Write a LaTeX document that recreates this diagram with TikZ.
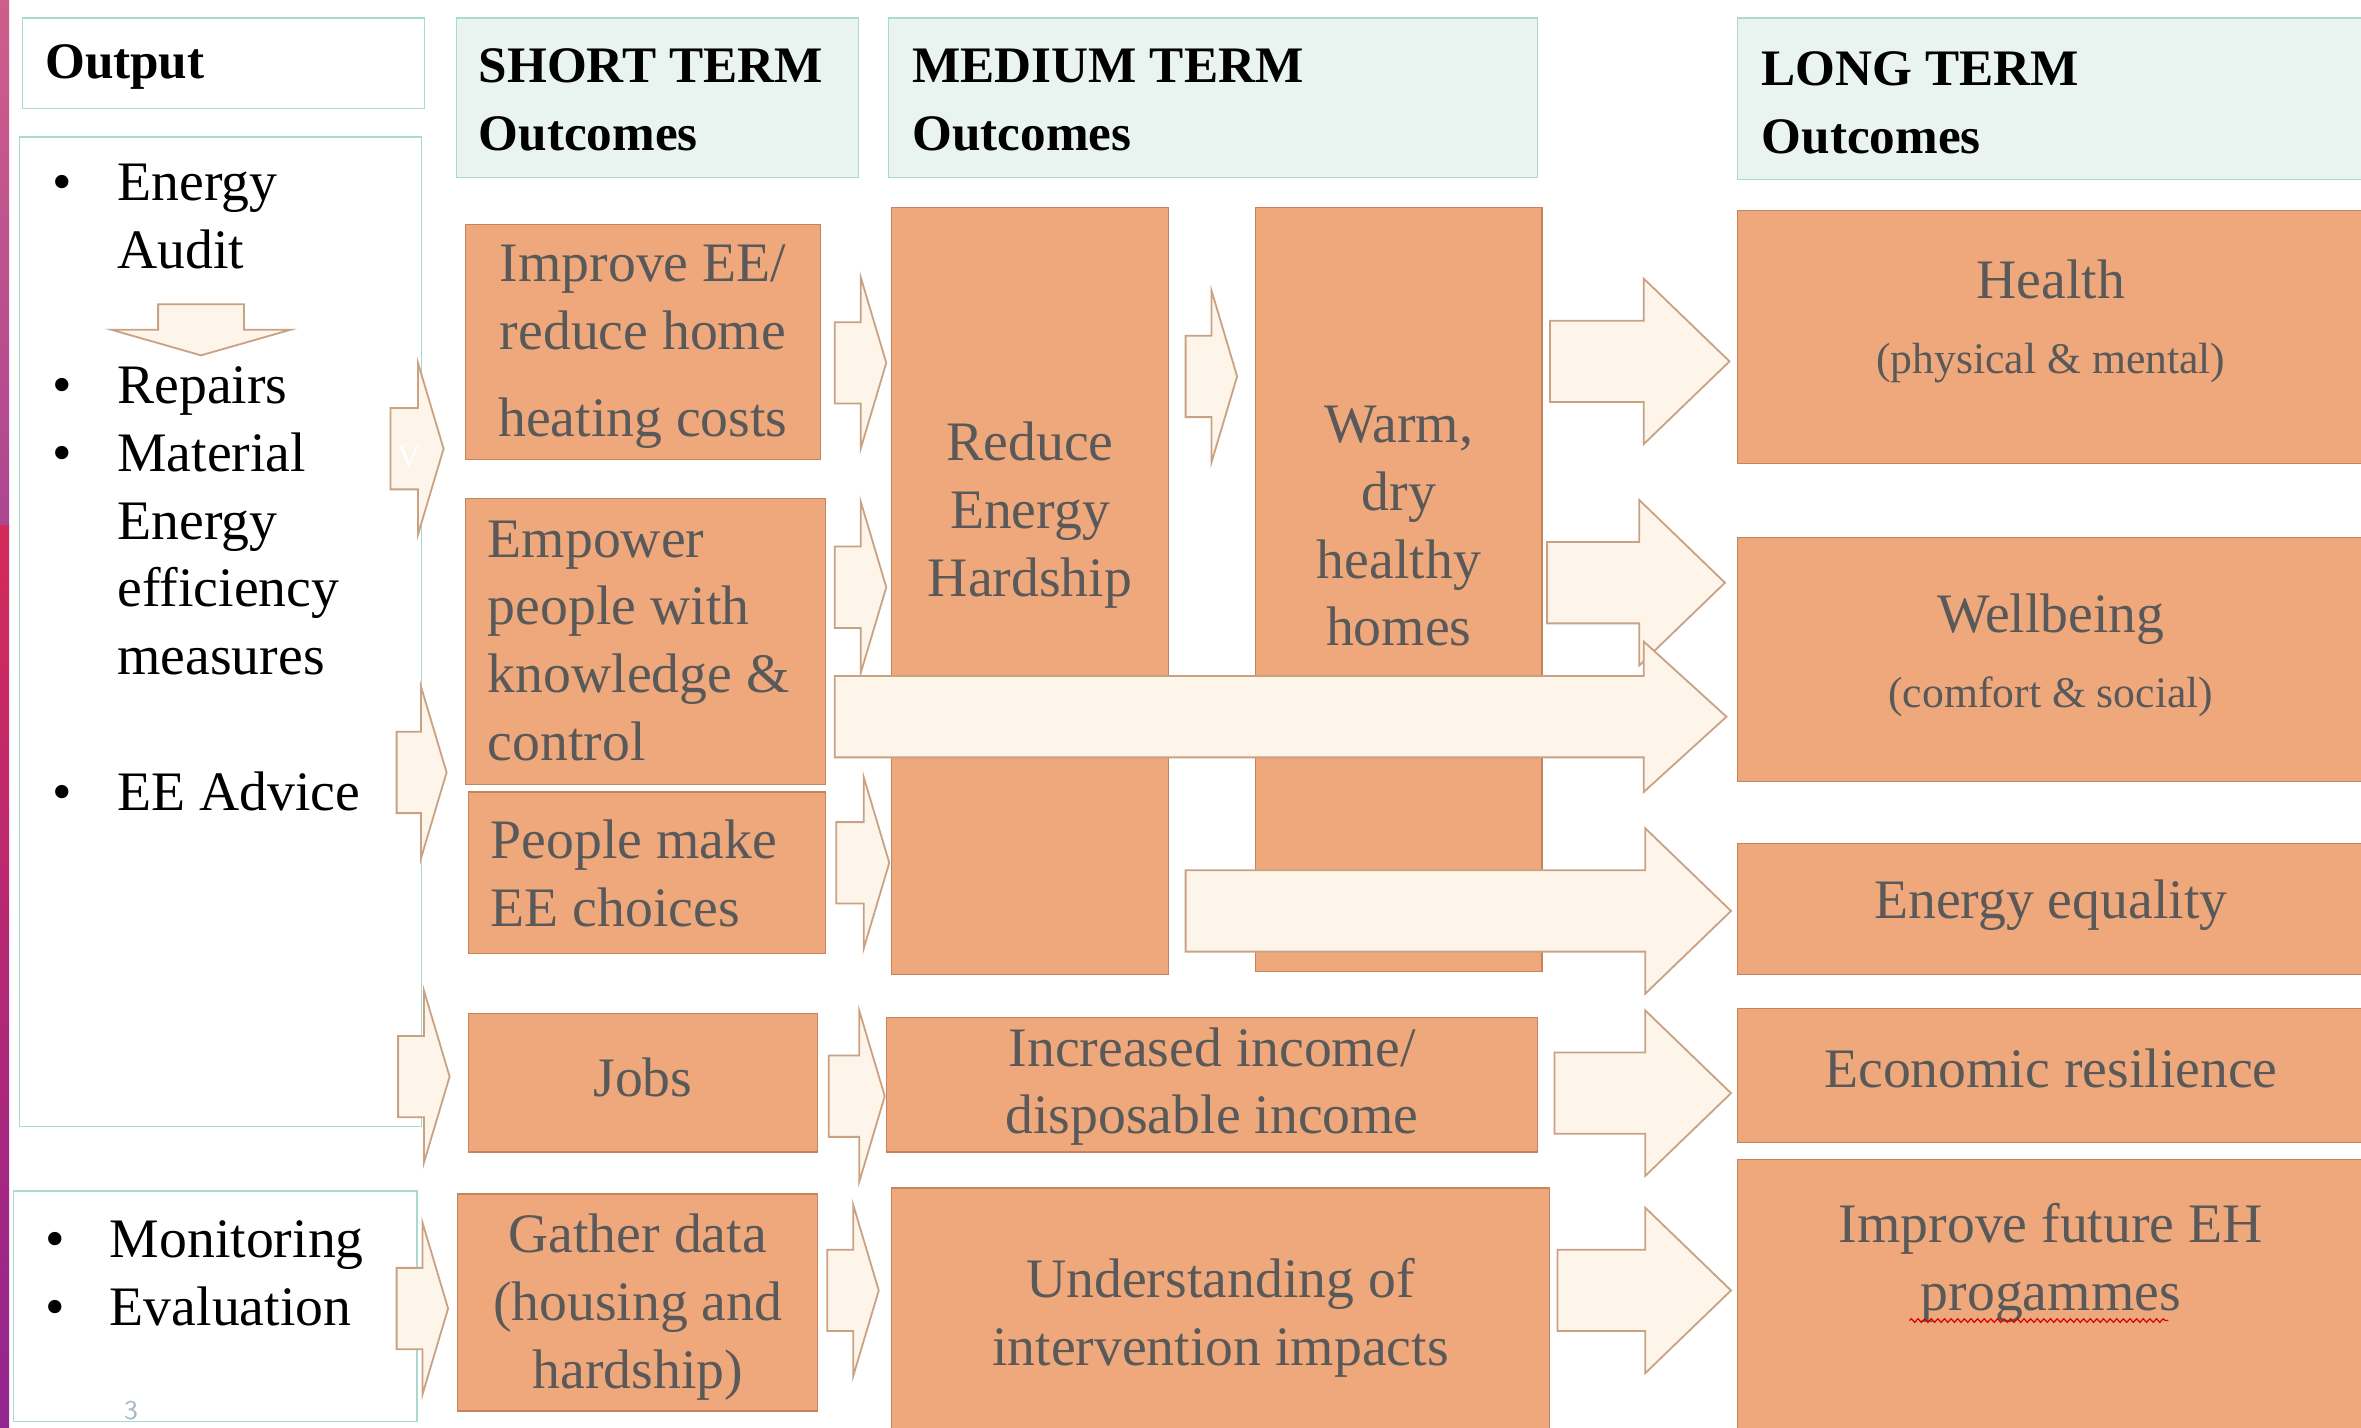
\documentclass[tikz,border=0pt]{standalone}
\usepackage{fontspec}
\setmainfont{Liberation Serif}
\usetikzlibrary{calc}
\usetikzlibrary{decorations.pathmorphing}

\definecolor{hdrfill}{HTML}{E9F3EF}
\definecolor{hdrline}{HTML}{A9DACC}
\definecolor{boxfill}{HTML}{EEA87B}
\definecolor{boxline}{HTML}{C4845D}
\definecolor{boxtext}{HTML}{595959}
\definecolor{arrfill}{HTML}{FDF5E9}
\definecolor{arrline}{HTML}{C9A284}
\definecolor{pgnumcol}{HTML}{A8B8C8}
\definecolor{edgeA}{HTML}{CD5E8B}
\definecolor{edgeB}{HTML}{AE4590}
\definecolor{edgeC}{HTML}{D42A5A}
\definecolor{edgeD}{HTML}{922690}

\newcommand\bodyfont{\fontsize{18.5}{22.5}\selectfont}
\newcommand\hdrfont{\fontsize{17}{22.5}\selectfont\bfseries}
\newcommand\smallfont{\fontsize{14.5}{17}\selectfont}
\newcommand\blt{\makebox[21.5pt][l]{\textbullet}}
\newcommand\indt{\hspace*{21.5pt}}

\begin{document}
\begin{tikzpicture}[x=0.5pt,y=-0.5pt,
    hdr/.style={draw=hdrline,fill=hdrfill,font=\hdrfont,align=flush left,inner ysep=0pt,text height=12pt},
    lst/.style={draw=hdrline,fill=white,font=\bodyfont,align=flush left,inner ysep=0pt,text height=12pt},
    obox/.style={draw=boxline,fill=boxfill,text=boxtext,font=\bodyfont,align=flush center,
      inner xsep=4pt,inner ysep=0pt,text height=12pt},
    arr/.style={draw=arrline,fill=arrfill,line width=0.6pt},
    barrow/.style n args={3}{to path={let \p1=(\tikztostart), \p2=(\tikztotarget) in
      (\x1,\y1+#1) -- (\x2-#3,\y1+#1) -- (\x2-#3,\y1+#2) -- (\x2,\y1)
      -- (\x2-#3,\y1-#2) -- (\x2-#3,\y1-#1) -- (\x1,\y1-#1) -- cycle}},
    sarrow/.style={barrow={13.5pt}{28.5pt}{8.5pt}},
    larrow/.style={barrow={13.5pt}{27.5pt}{28.5pt}}]
  \useasboundingbox (0,0) rectangle (1568,948);
  \clip (0,0) rectangle (1568,948);

  % slide edge
  \shade[top color=edgeA, bottom color=edgeB] (0,0) rectangle (6,349);
  \shade[top color=edgeC, bottom color=edgeD] (0,349) rectangle (6,948);

  % headers
  \node[hdr,fill=white,minimum width=133.5pt,minimum height=30pt,inner xsep=7.5pt,text width=118.5pt,text depth=2pt]
    (hout) at (148.5,42) {Output};
  \node[hdr,minimum width=133.5pt,minimum height=53pt,inner xsep=7.5pt,text width=118.5pt,text depth=22pt]
    (hsht) at (436.5,65) {SHORT TERM\\Outcomes};
  \node[hdr,minimum width=215.5pt,minimum height=53pt,inner xsep=8pt,text width=199.5pt,text depth=22pt]
    (hmed) at (805.5,65) {MEDIUM TERM\\Outcomes};
  \node[hdr,minimum width=208pt,minimum height=53.5pt,inner xsep=8pt,text width=192pt,text depth=20.5pt]
    (hlng) at (1362,65.5) {LONG TERM\\Outcomes};

  % outputs
  \node[lst,minimum width=133.5pt,minimum height=328.5pt,inner xsep=11pt,text width=111.5pt,text depth=298.5pt]
    (list) at (146.5,419.5)
    {\blt Energy\\ \indt Audit\\[22.5pt]
     \blt Repairs\\ \blt Material\\ \indt Energy\\ \indt efficiency\\ \indt measures\\[22.5pt]
     \blt EE Advice};
  \node[lst,minimum width=134pt,minimum height=76.5pt,inner xsep=10.5pt,text width=113pt,text depth=44.5pt]
    (mon) at (143,867.5) {\blt Monitoring\\ \blt Evaluation};
  \node[text=pgnumcol,font=\sffamily\fontsize{9}{9}\selectfont] (pgnum) at (87,937) {3};

  % short term
  \node[obox,minimum width=118pt,minimum height=78pt,text width=110pt,text depth=52pt]
    (imp) at (427,227) {Improve EE/\\reduce home\\[6.5pt]heating costs};
  \node[obox,align=flush left,minimum width=119.5pt,minimum height=95pt,inner xsep=7.5pt,text width=104.5pt,text depth=68pt]
    (emp) at (428.5,426) {Empower\\people with\\knowledge \&\\control};
  \node[obox,align=flush left,minimum width=118.5pt,minimum height=53.5pt,inner xsep=7.5pt,text width=103.5pt,text depth=21.5pt]
    (ppl) at (429.5,579.5) {People make\\EE choices};
  \node[obox,minimum width=116pt,minimum height=46pt,text width=108pt,text depth=3pt]
    (jobs) at (427,719) {Jobs};
  \node[obox,minimum width=119.5pt,minimum height=72pt,text width=111.5pt,text depth=45pt]
    (gat) at (423.5,865) {Gather data\\(housing and\\hardship)};

  % medium term
  \node[obox,minimum width=92pt,minimum height=254.5pt,text width=84pt,text depth=98.5pt]
    (red) at (684,392.5) {Reduce\\Energy\\Hardship};
  \node[obox,minimum width=95pt,minimum height=253.5pt,text width=87pt,text depth=109.5pt]
    (warm) at (929,391.5) {Warm,\\dry\\healthy\\homes};
  \node[obox,minimum width=216pt,minimum height=44.5pt,text width=208pt,text depth=24.5pt]
    (inc) at (805,720.5) {Increased income/\\disposable income};
  \node[obox,minimum width=218.5pt,minimum height=88pt,text width=210.5pt,text depth=27pt]
    (und) at (810.5,877) {Understanding of\\intervention impacts};

  % long term
  \node[obox,minimum width=208pt,minimum height=84pt,text width=200pt,text depth=38pt]
    (hea) at (1362,224) {Health\\[2.5pt]{\smallfont (physical \& mental)}};
  \node[obox,minimum width=208pt,minimum height=81pt,text width=200pt,text depth=30pt]
    (wel) at (1362,438) {Wellbeing\\[2.5pt]{\smallfont (comfort \& social)}};
  \node[obox,minimum width=208pt,minimum height=43.5pt,text width=200pt,text depth=5.5pt]
    (eeq) at (1362,603.5) {Energy equality};
  \node[obox,minimum width=208pt,minimum height=44.5pt,text width=200pt,text depth=4.5pt]
    (eco) at (1362,714.5) {Economic resilience};
  \node[obox,minimum width=208pt,minimum height=97.5pt,text width=200pt,text depth=54.5pt]
    (fut) at (1362,867.5) {Improve future EH\\progammes};
  \draw[red!85!black,line width=0.4pt,decorate,decoration={snake,amplitude=0.6pt,segment length=2.2pt}]
    (1268,877) -- (1440,877);

  % audit leads to repairs
  \draw[arr] (105,202) -- (162,202) -- (162,219) -- (193,219) -- (133.5,236) -- (74,219) -- (105,219) -- cycle;

  % outputs to short term
  \draw[arr,sarrow] ([xshift=-10.5pt]list.east |- 0,298) to ([xshift=-7pt]imp.west |- 0,298);
  \node[text=white,font=\fontsize{11}{11}\selectfont] (vmark) at (271.5,303.5) {V};
  \draw[arr,sarrow] ([xshift=-8.5pt]list.east |- 0,513) to ([xshift=-6pt]emp.west |- 0,513);
  \draw[arr,sarrow] ([xshift=-8pt]list.east |- 0,715) to ([xshift=-6pt]jobs.west |- 0,715);
  \draw[arr,sarrow] ([xshift=-7pt]mon.east |- 0,869) to ([xshift=-3pt]gat.west |- 0,869);

  % short term to medium term
  \draw[arr,sarrow] ([xshift=4.5pt]imp.east |- 0,241) to ([xshift=-1.5pt]red.west |- 0,241);
  \draw[arr,sarrow] ([xshift=3pt]emp.east |- 0,390) to ([xshift=-1.5pt]red.west |- 0,390);
  \draw[arr,sarrow] ([xshift=3.5pt]ppl.east |- 0,573) to ([xshift=-0.5pt]red.west |- 0,573);
  \draw[arr,sarrow] ([xshift=3.5pt]jobs.east |- 0,728) to ([xshift=-0.5pt]inc.west |- 0,728);
  \draw[arr,sarrow] ([xshift=3pt]gat.east |- 0,857) to ([xshift=-4pt]und.west |- 0,857);
  \draw[arr,sarrow] ([xshift=5.5pt]red.east |- 0,250) to ([xshift=-6pt]warm.west |- 0,250);

  % medium term to long term
  \draw[arr,larrow] ([xshift=2.5pt]warm.east |- 0,240) to ([xshift=-2.5pt]hea.west |- 0,240);
  \draw[arr,larrow] ([xshift=1.5pt]warm.east |- 0,387) to ([xshift=-4pt]wel.west |- 0,387);
  \draw[arr,barrow={13.5pt}{25pt}{27.5pt}] ([xshift=3pt]emp.east |- 0,476) to ([xshift=-3.5pt]wel.west |- 0,476);
  \draw[arr,larrow] ([xshift=5.5pt]red.east |- 0,605) to ([xshift=-2pt]eeq.west |- 0,605);
  \draw[arr,larrow] ([xshift=5.5pt]inc.east |- 0,726) to ([xshift=-2pt]eco.west |- 0,726);
  \draw[arr,larrow] ([xshift=2.5pt]und.east |- 0,857) to ([xshift=-2pt]fut.west |- 0,857);
\end{tikzpicture}
\end{document}
